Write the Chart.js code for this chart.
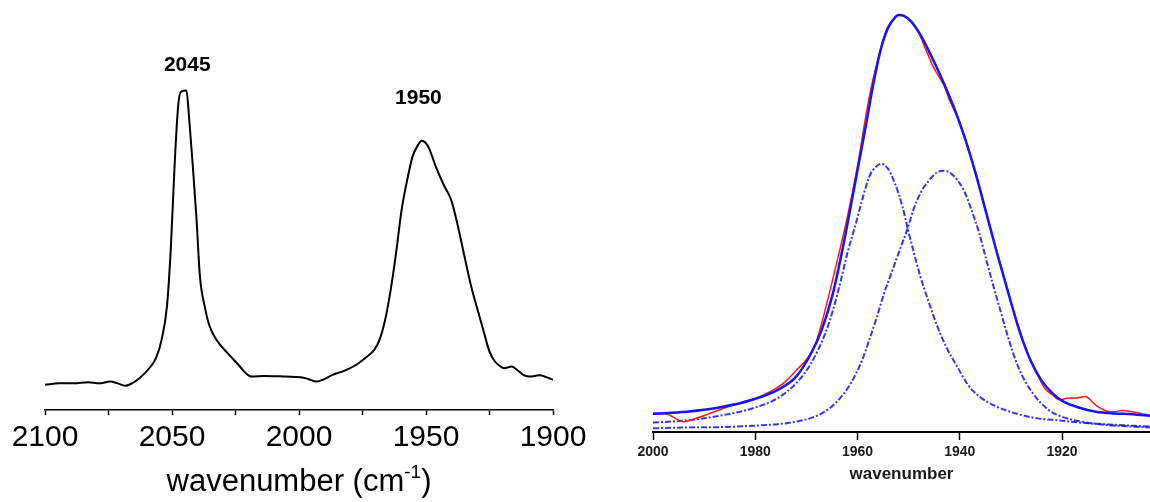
<!DOCTYPE html>
<html>
<head>
<meta charset="utf-8">
<script src="https://cdn.jsdelivr.net/npm/chart.js@4"></script>
<style>
  html, body { margin: 0; padding: 0; background: #fff; }
  #wrap { position: relative; width: 1150px; height: 502px; overflow: hidden; }
  #spectrumChart { position: absolute; left: 0; top: 0; }
  #fitChart { position: absolute; left: 600px; top: 0; }
</style>
</head>
<body>
<div id="wrap">
  <canvas id="spectrumChart" width="600" height="502"></canvas>
  <canvas id="fitChart" width="550" height="502"></canvas>
</div>
<script>
// left panel: full CO stretching region
const spectrumWn = [2100, 2094.5, 2088.7, 2083, 2078.7, 2074.3, 2071.4, 2068.5, 2066.4, 2062.8, 2058.4, 2056.3, 2054.1, 2052, 2050.5, 2049, 2047.6, 2046.5, 2044.3, 2043.3, 2041.8, 2040.4, 2039, 2037, 2035.4, 2032.5, 2028.1, 2023.8, 2020.9, 2018.8, 2013.7, 2005, 1999.3, 1996.4, 1993.2, 1990.6, 1987, 1982, 1977.6, 1973.3, 1970.4, 1968.3, 1966.1, 1963.9, 1961.8, 1959.6, 1957.4, 1955.3, 1953.1, 1951.7, 1950.2, 1948.8, 1945.9, 1943, 1940.1, 1938, 1935.1, 1932.2, 1929.3, 1927.1, 1925, 1922.8, 1920.6, 1919.2, 1916.3, 1914.1, 1911.3, 1909.1, 1905.5, 1902.6, 1900];
const spectrumAbs = [0.006, 0.011, 0.011, 0.015, 0.011, 0.017, 0.011, 0.003, 0.008, 0.028, 0.068, 0.096, 0.158, 0.270, 0.462, 0.743, 0.946, 0.996, 1.000, 0.912, 0.743, 0.574, 0.372, 0.266, 0.209, 0.158, 0.113, 0.073, 0.045, 0.034, 0.036, 0.034, 0.032, 0.026, 0.017, 0.023, 0.039, 0.054, 0.073, 0.101, 0.124, 0.158, 0.225, 0.327, 0.450, 0.597, 0.698, 0.777, 0.817, 0.831, 0.824, 0.805, 0.738, 0.681, 0.631, 0.563, 0.450, 0.338, 0.248, 0.180, 0.118, 0.084, 0.068, 0.062, 0.068, 0.056, 0.038, 0.034, 0.038, 0.032, 0.023];
const spectrumTicks = [2100, 2075, 2050, 2025, 2000, 1975, 1950, 1925, 1900];
const peakLabels = ['2045', '1950'];
const peakLabelWn = [2044, 1953];
const peakLabelAbs = [1.087, 0.975];

// right panel: fit of the 1950 band
const measuredWn = [2000, 1997.6, 1994.0, 1992.1, 1988.4, 1985.6, 1982.7, 1979.8, 1977.0, 1974.1, 1972.0, 1969.8, 1968.4, 1967.0, 1965.5, 1964.1, 1962.7, 1961.3, 1959.8, 1958.4, 1957.0, 1955.5, 1954.1, 1952.7, 1951.7, 1950.5, 1949.5, 1948.0, 1946.6, 1945.2, 1944.1, 1943.0, 1942.0, 1940.5, 1939.1, 1937.7, 1936.2, 1934.8, 1933.4, 1931.9, 1930.5, 1929.1, 1927.7, 1926.2, 1924.8, 1923.4, 1921.9, 1920.5, 1918.7, 1917.3, 1915.5, 1913.4, 1911.6, 1909.8, 1908.3, 1906.2, 1904.4, 1902.8];
const measuredAbs = [0.036, 0.035, 0.016, 0.022, 0.038, 0.051, 0.062, 0.073, 0.089, 0.113, 0.140, 0.169, 0.198, 0.254, 0.327, 0.399, 0.472, 0.552, 0.649, 0.754, 0.843, 0.915, 0.964, 0.992, 1.000, 0.994, 0.984, 0.956, 0.915, 0.875, 0.851, 0.827, 0.794, 0.754, 0.706, 0.649, 0.585, 0.520, 0.456, 0.391, 0.327, 0.270, 0.214, 0.165, 0.129, 0.097, 0.081, 0.069, 0.073, 0.073, 0.077, 0.056, 0.043, 0.040, 0.043, 0.040, 0.035, 0.032];
const fitSumWn = [2000, 1993.4, 1986.3, 1980.6, 1975.6, 1972.0, 1969.1, 1967.0, 1964.8, 1962.7, 1960.6, 1958.4, 1957.0, 1955.5, 1954.1, 1952.7, 1952.0, 1950.9, 1949.5, 1947.7, 1945.5, 1943.4, 1941.2, 1939.1, 1936.9, 1934.8, 1932.7, 1930.5, 1928.4, 1926.2, 1924.1, 1921.9, 1919.8, 1916.9, 1913.4, 1909.8, 1906.2, 1902.8];
const fitSumAbs = [0.035, 0.040, 0.052, 0.069, 0.093, 0.125, 0.181, 0.238, 0.327, 0.448, 0.585, 0.730, 0.827, 0.915, 0.968, 0.994, 1.000, 0.998, 0.984, 0.952, 0.899, 0.843, 0.778, 0.706, 0.617, 0.520, 0.423, 0.327, 0.238, 0.165, 0.117, 0.085, 0.065, 0.051, 0.040, 0.036, 0.034, 0.030];
const band1Wn = [2000, 1993.4, 1986.3, 1980.6, 1975.6, 1972.0, 1969.1, 1966.3, 1964.8, 1963.4, 1962.0, 1960.5, 1959.1, 1957.7, 1956.2, 1955.4, 1954.1, 1952.7, 1951.2, 1950.2, 1949.1, 1947.7, 1946.2, 1944.5, 1942.7, 1940.5, 1938.4, 1936.2, 1932.7, 1929.1, 1924.8, 1920.5, 1914.8, 1909.1, 1902.8];
const band1Abs = [0.014, 0.019, 0.032, 0.048, 0.073, 0.109, 0.157, 0.230, 0.286, 0.351, 0.423, 0.488, 0.552, 0.609, 0.635, 0.640, 0.629, 0.593, 0.536, 0.484, 0.431, 0.367, 0.310, 0.250, 0.198, 0.149, 0.105, 0.077, 0.052, 0.036, 0.024, 0.019, 0.012, 0.008, 0.004];
const band2Wn = [2000, 1993.4, 1986.3, 1980.6, 1975.6, 1972.0, 1968.4, 1965.5, 1963.4, 1961.3, 1959.1, 1957.7, 1956.2, 1954.8, 1953.4, 1952.0, 1950.2, 1949.1, 1947.7, 1946.2, 1944.5, 1943.2, 1942.0, 1940.5, 1939.1, 1937.7, 1936.2, 1934.8, 1933.4, 1931.9, 1930.5, 1929.1, 1927.7, 1925.5, 1922.6, 1919.8, 1916.2, 1911.2, 1902.8];
const band2Abs = [0.000, 0.002, 0.003, 0.006, 0.010, 0.016, 0.028, 0.048, 0.073, 0.109, 0.165, 0.214, 0.270, 0.327, 0.375, 0.423, 0.484, 0.528, 0.569, 0.597, 0.619, 0.623, 0.619, 0.601, 0.573, 0.528, 0.472, 0.407, 0.343, 0.278, 0.218, 0.165, 0.125, 0.081, 0.044, 0.027, 0.016, 0.008, 0.002];
const fitTicks = [2000, 1980, 1960, 1940, 1920];

const FONT = "'Liberation Sans', Arial, Helvetica, sans-serif";
Chart.defaults.font.family = FONT;

const toPoints = (xs, ys) => xs.map((x, i) => ({ x: x, y: ys[i] }));

// peak labels + axis title with superscript (canvas text)
const spectrumText = {
    id: 'spectrumText',
    afterDraw(chart) {
        const { ctx, chartArea, scales } = chart;
        ctx.save();
        ctx.fillStyle = '#000';
        ctx.textAlign = 'center';
        ctx.textBaseline = 'middle';
        ctx.font = `bold 21px ${FONT}`;
        peakLabels.forEach((t, i) => {
            ctx.fillText(t, scales.x.getPixelForValue(peakLabelWn[i]), scales.y.getPixelForValue(peakLabelAbs[i]));
        });

        const main = `31px ${FONT}`, sup = `19px ${FONT}`;
        const parts = [['wavenumber (cm', main, 0], ['-1', sup, -13], [')', main, 0]];
        let total = 0;
        parts.forEach(p => { ctx.font = p[1]; total += ctx.measureText(p[0]).width; });
        let x = (chartArea.left + chartArea.right) / 2 - total / 2;
        const base = scales.x.bottom - 11;
        ctx.textAlign = 'left';
        ctx.textBaseline = 'alphabetic';
        parts.forEach(p => {
            ctx.font = p[1];
            ctx.fillText(p[0], x, base + p[2]);
            x += ctx.measureText(p[0]).width;
        });
        ctx.restore();
    }
};

new Chart(document.getElementById('spectrumChart'), {
    type: 'line',
    data: {
        datasets: [{
            data: toPoints(spectrumWn, spectrumAbs),
            borderColor: '#000',
            borderWidth: 2,
            pointRadius: 0,
            cubicInterpolationMode: 'monotone'
        }]
    },
    options: {
        responsive: false,
        devicePixelRatio: 1,
        animation: false,
        layout: { padding: { left: 45, right: 47, top: 40, bottom: 0 } },
        scales: {
            x: {
                type: 'linear',
                reverse: true,
                min: 1900,
                max: 2100,
                afterBuildTicks: (s) => { s.ticks = spectrumTicks.map(v => ({ value: v })); },
                afterFit: (s) => { s.height = 92; },
                border: { color: '#000', width: 1.5 },
                grid: { drawOnChartArea: false, tickLength: 5, tickColor: '#000', tickWidth: 1.5 },
                ticks: {
                    color: '#000',
                    font: { size: 30 },
                    padding: 5,
                    maxRotation: 0,
                    autoSkip: false,
                    callback: (v) => (v % 50 === 0 ? String(v) : '')
                }
            },
            y: { display: false, min: -0.079, max: 1.171 }
        },
        plugins: { legend: { display: false }, tooltip: { enabled: false } }
    },
    plugins: [spectrumText]
});

const dashDot = [6, 2, 2, 2];

new Chart(document.getElementById('fitChart'), {
    type: 'line',
    data: {
        datasets: [{
            label: 'fit',
            data: toPoints(fitSumWn, fitSumAbs),
            borderColor: '#1414ff',
            borderWidth: 2.5
        }, {
            label: 'measured',
            data: toPoints(measuredWn, measuredAbs),
            borderColor: '#ff1a1a',
            borderWidth: 1.5
        }, {
            label: 'band 1',
            data: toPoints(band1Wn, band1Abs),
            borderColor: 'rgba(20, 20, 235, 0.85)',
            borderWidth: 2,
            borderDash: dashDot
        }, {
            label: 'band 2',
            data: toPoints(band2Wn, band2Abs),
            borderColor: 'rgba(20, 20, 235, 0.85)',
            borderWidth: 2,
            borderDash: dashDot
        }]
    },
    options: {
        responsive: false,
        devicePixelRatio: 1,
        animation: false,
        elements: { point: { radius: 0 }, line: { cubicInterpolationMode: 'monotone' } },
        layout: { padding: { left: 53, right: 0, top: 8, bottom: 0 } },
        scales: {
            x: {
                type: 'linear',
                reverse: true,
                min: 1902.8,
                max: 2000,
                afterBuildTicks: (s) => { s.ticks = fitTicks.map(v => ({ value: v })); },
                afterFit: (s) => { s.height = 70; },
                border: { color: '#000', width: 2 },
                grid: { drawOnChartArea: false, tickLength: 8, tickColor: '#000', tickWidth: 1.5 },
                ticks: {
                    color: '#1a1a1a',
                    font: { size: 14, weight: 'bold' },
                    padding: 4,
                    maxRotation: 0,
                    autoSkip: false,
                    callback: (v) => String(v)
                },
                title: {
                    display: true,
                    text: 'wavenumber',
                    color: '#1a1a1a',
                    font: { size: 17, weight: 'bold' },
                    padding: { top: 0, bottom: 17 }
                }
            },
            y: { display: false, min: -0.009, max: 1.017 }
        },
        plugins: { legend: { display: false }, tooltip: { enabled: false } }
    }
});
</script>
</body>
</html>
